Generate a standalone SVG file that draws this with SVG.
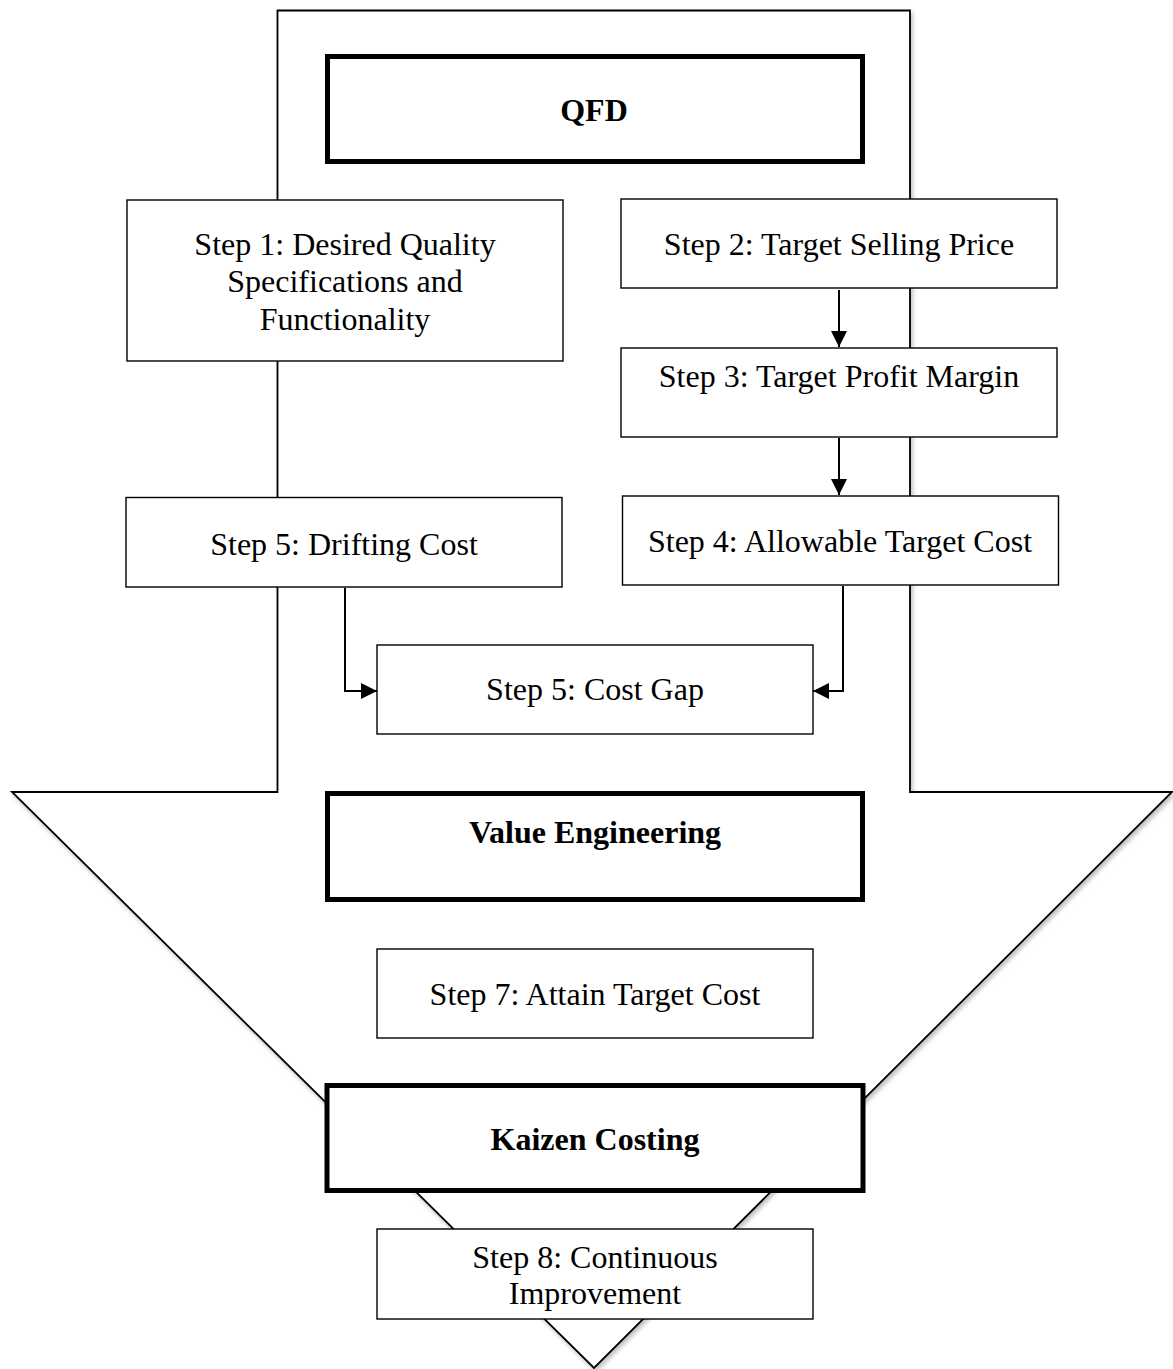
<svg xmlns="http://www.w3.org/2000/svg" width="1173" height="1369" viewBox="0 0 1173 1369">
<style>
  .box{fill:#fff;stroke:#000;stroke-width:1.4}
  .thick{fill:#fff;stroke:#000;stroke-width:5}
  .t{font-family:"Liberation Serif","Times New Roman",serif;font-size:32px;fill:#000;text-anchor:middle}
  .b{font-weight:bold}
  .conn{fill:none;stroke:#000;stroke-width:2}
</style>
<defs>
  <filter id="sh" x="-5%" y="-5%" width="110%" height="110%">
    <feDropShadow dx="2" dy="3" stdDeviation="2" flood-color="#000" flood-opacity="0.25"/>
  </filter>
  <marker id="ah" markerUnits="userSpaceOnUse" markerWidth="16" markerHeight="16" refX="16" refY="8" orient="auto">
    <path d="M0,0 L16,8 L0,16 Z" fill="#000"/>
  </marker>
</defs>
<rect width="1173" height="1369" fill="#fff"/>
<g id="big-arrow">
  <polygon points="277.5,10.5 910,10.5 910,792 1172,792 594,1368 12,792 277.5,792" fill="#fff" stroke="#000" stroke-width="1.8" stroke-linejoin="miter" filter="url(#sh)"/>
</g>
<g id="connectors">
  <line class="conn" x1="839" y1="290" x2="839" y2="347" marker-end="url(#ah)"/>
  <line class="conn" x1="839" y1="438" x2="839" y2="495" marker-end="url(#ah)"/>
  <polyline class="conn" points="345,588 345,691 377,691" marker-end="url(#ah)"/>
  <polyline class="conn" points="843,586 843,691 813,691" marker-end="url(#ah)"/>
</g>
<g id="qfd">
  <rect class="thick" x="327.5" y="56.5" width="535" height="105"/>
  <text class="t b" x="594" y="121">QFD</text>
</g>
<g id="step1">
  <rect class="box" x="127" y="200" width="436" height="161"/>
  <text class="t" x="345" y="255">Step 1: Desired Quality</text>
  <text class="t" x="345" y="292">Specifications and</text>
  <text class="t" x="345" y="330">Functionality</text>
</g>
<g id="step2">
  <rect class="box" x="621" y="199" width="436" height="89"/>
  <text class="t" x="839" y="255">Step 2: Target Selling Price</text>
</g>
<g id="step3">
  <rect class="box" x="621" y="348" width="436" height="89"/>
  <text class="t" x="839" y="387">Step 3: Target Profit Margin</text>
</g>
<g id="step4">
  <rect class="box" x="622.5" y="496" width="436" height="89"/>
  <text class="t" x="840" y="552">Step 4: Allowable Target Cost</text>
</g>
<g id="step5-drifting">
  <rect class="box" x="126" y="497.5" width="436" height="89.5"/>
  <text class="t" x="344" y="555">Step 5: Drifting Cost</text>
</g>
<g id="step5-gap">
  <rect class="box" x="377" y="645" width="436" height="89"/>
  <text class="t" x="595" y="700">Step 5: Cost Gap</text>
</g>
<g id="value-engineering">
  <rect class="thick" x="327.5" y="793.5" width="535" height="106"/>
  <text class="t b" x="595" y="843">Value Engineering</text>
</g>
<g id="step7">
  <rect class="box" x="377" y="949" width="436" height="89"/>
  <text class="t" x="595" y="1005">Step 7: Attain Target Cost</text>
</g>
<g id="kaizen">
  <rect class="thick" x="327" y="1085.5" width="536" height="105"/>
  <text class="t b" x="595" y="1150">Kaizen Costing</text>
</g>
<g id="step8">
  <rect class="box" x="377" y="1229" width="436" height="90"/>
  <text class="t" x="595" y="1268">Step 8: Continuous</text>
  <text class="t" x="595" y="1304">Improvement</text>
</g>
</svg>
